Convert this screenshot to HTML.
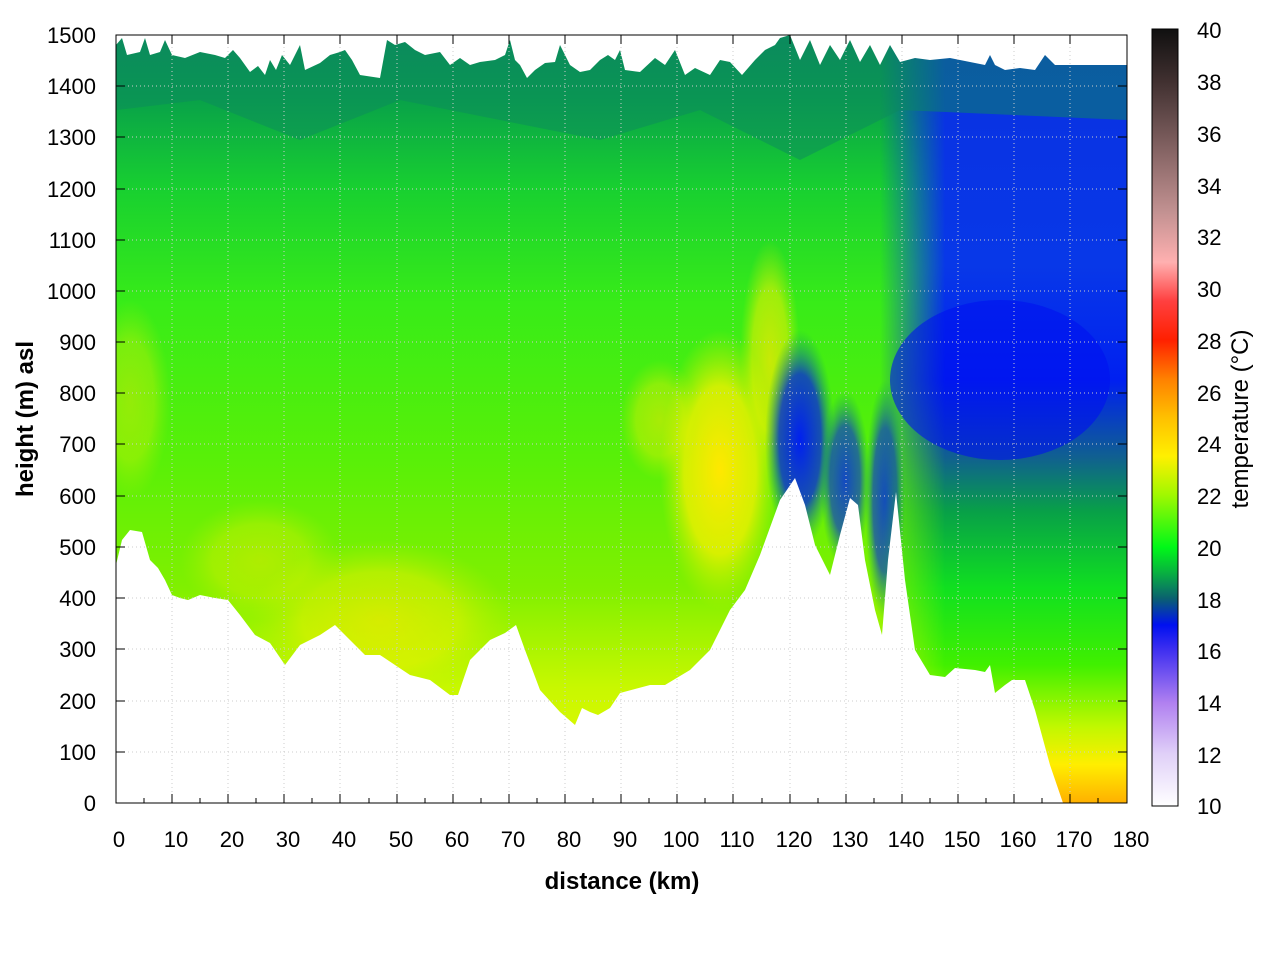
<!DOCTYPE html>
<html><head><meta charset="utf-8"><style>
body{margin:0;background:#fff;}
svg text{font-family:"Liberation Sans",sans-serif;}
</style></head><body>
<svg width="1280" height="960" xmlns="http://www.w3.org/2000/svg">
<defs>
<linearGradient id="base" x1="0" y1="0" x2="0" y2="1">
<stop offset="0" stop-color="#0b8a5e"/>
<stop offset="0.08" stop-color="#08a04a"/>
<stop offset="0.2" stop-color="#18d030"/>
<stop offset="0.35" stop-color="#38ec18"/>
<stop offset="0.55" stop-color="#58f008"/>
<stop offset="0.72" stop-color="#80f000"/>
<stop offset="0.85" stop-color="#c8f800"/>
<stop offset="1" stop-color="#f0f800"/>
</linearGradient>
<linearGradient id="right" x1="0" y1="0" x2="0" y2="1">
<stop offset="0" stop-color="#0a30e0"/>
<stop offset="0.3" stop-color="#0838e8"/>
<stop offset="0.45" stop-color="#0020f0"/>
<stop offset="0.55" stop-color="#106090"/>
<stop offset="0.62" stop-color="#08a048"/>
<stop offset="0.72" stop-color="#10e020"/>
<stop offset="0.82" stop-color="#40f000"/>
<stop offset="0.9" stop-color="#c0f800"/>
<stop offset="0.95" stop-color="#ffee00"/>
<stop offset="1" stop-color="#ffb000"/>
</linearGradient>
<linearGradient id="fade" x1="0" y1="0" x2="1" y2="0">
<stop offset="0" stop-color="#fff" stop-opacity="0"/>
<stop offset="0.25" stop-color="#fff" stop-opacity="1"/>
</linearGradient>
<mask id="m"><rect x="880" y="0" width="260" height="960" fill="url(#fade)"/></mask>
<radialGradient id="yel" cx="0.5" cy="0.5" r="0.5">
<stop offset="0" stop-color="#ffe800"/>
<stop offset="0.6" stop-color="#f0f000" stop-opacity="0.8"/>
<stop offset="1" stop-color="#c0f000" stop-opacity="0"/>
</radialGradient>
<radialGradient id="blu" cx="0.5" cy="0.5" r="0.5">
<stop offset="0" stop-color="#0020f0"/>
<stop offset="0.6" stop-color="#1040c0" stop-opacity="0.9"/>
<stop offset="1" stop-color="#10a060" stop-opacity="0"/>
</radialGradient>
<linearGradient id="cb" x1="0" y1="1" x2="0" y2="0">
<stop offset="0" stop-color="#ffffff"/>
<stop offset="0.067" stop-color="#e0d0f8"/>
<stop offset="0.133" stop-color="#b080f0"/>
<stop offset="0.2" stop-color="#4030f0"/>
<stop offset="0.233" stop-color="#0010f0"/>
<stop offset="0.267" stop-color="#0a6070"/>
<stop offset="0.3" stop-color="#08b040"/>
<stop offset="0.333" stop-color="#00f818"/>
<stop offset="0.4" stop-color="#a0f800"/>
<stop offset="0.45" stop-color="#fff000"/>
<stop offset="0.5" stop-color="#ffc000"/>
<stop offset="0.55" stop-color="#ff8000"/>
<stop offset="0.6" stop-color="#ff2000"/>
<stop offset="0.65" stop-color="#ff4040"/>
<stop offset="0.7" stop-color="#ffb0b0"/>
<stop offset="0.767" stop-color="#c09090"/>
<stop offset="0.85" stop-color="#806060"/>
<stop offset="0.933" stop-color="#403030"/>
<stop offset="1" stop-color="#101010"/>
</linearGradient>
<clipPath id="pc"><rect x="116" y="35" width="1011" height="768"/></clipPath>
</defs>
<g clip-path="url(#pc)">
<rect x="116" y="35" width="1011" height="768" fill="url(#base)"/>
<ellipse cx="380" cy="620" rx="130" ry="80" fill="url(#yel)" opacity="0.6"/>
<ellipse cx="260" cy="560" rx="80" ry="60" fill="url(#yel)" opacity="0.4"/>
<ellipse cx="130" cy="400" rx="40" ry="100" fill="url(#yel)" opacity="0.4"/>
<ellipse cx="720" cy="470" rx="60" ry="140" fill="url(#yel)"/>
<ellipse cx="770" cy="360" rx="30" ry="120" fill="url(#yel)" opacity="0.7"/>
<ellipse cx="660" cy="420" rx="40" ry="60" fill="url(#yel)" opacity="0.5"/>
<ellipse cx="800" cy="440" rx="35" ry="110" fill="url(#blu)"/>
<ellipse cx="845" cy="480" rx="25" ry="90" fill="url(#blu)" opacity="0.8"/>
<ellipse cx="885" cy="500" rx="20" ry="120" fill="url(#blu)" opacity="0.8"/>
<g mask="url(#m)"><rect x="880" y="35" width="247" height="768" fill="url(#right)"/></g>
<ellipse cx="1000" cy="380" rx="110" ry="80" fill="#0010f0" opacity="0.6"/>
<polygon fill="#0b8a5e" opacity="0.5" points="116,35 1127,35 1127,120 900,110 800,160 700,110 600,140 500,120 400,100 300,140 200,100 116,110"/>
<polygon fill="#fff" points="116,803 116,565 122,540 130,530 142,532 150,560 158,568 165,580 172,595 180,598 188,600 200,595 215,598 228,600 240,615 255,635 270,643 285,665 300,645 320,635 335,625 350,640 365,655 380,655 395,665 410,675 430,680 450,695 458,695 470,660 490,640 505,633 516,625 525,650 540,690 560,712 575,725 582,708 590,712 598,715 610,708 620,693 650,685 665,685 690,670 710,650 730,610 745,590 760,555 780,500 795,478 805,505 815,545 830,575 840,535 850,498 858,505 865,560 875,610 882,635 888,560 896,492 905,580 915,650 930,675 945,677 955,668 975,670 985,672 990,665 995,693 1005,685 1012,680 1025,680 1035,710 1050,765 1063,803"/>
<polygon fill="#fff" points="116,35 116,45 122,38 127,55 140,52 145,38 150,55 160,52 165,40 172,55 185,58 200,52 215,55 225,58 233,50 240,58 250,72 258,66 265,75 270,60 276,70 282,55 290,65 300,45 305,70 320,63 330,55 340,52 345,50 352,60 360,75 380,78 387,40 395,45 405,42 415,50 425,55 440,52 450,65 460,58 470,65 480,62 495,60 505,55 510,40 515,60 520,65 527,78 535,70 545,63 555,62 560,45 570,65 580,72 590,70 600,60 608,55 615,60 620,50 625,70 640,72 655,58 665,65 675,50 685,75 695,68 710,75 720,60 730,62 742,75 755,60 765,50 775,45 780,38 790,35 800,60 810,40 820,65 830,45 840,60 850,40 860,62 870,45 880,65 890,45 900,62 915,58 930,60 950,58 970,62 985,65 990,55 995,65 1005,70 1020,68 1035,70 1045,55 1055,65 1062,65 1127,65 1127,35"/>
</g>
<g stroke="#ccc" stroke-width="1" stroke-dasharray="1,3">
<path d="M172,35V803M228,35V803M284,35V803M340,35V803M397,35V803M453,35V803M509,35V803M565,35V803M621,35V803M677,35V803M733,35V803M790,35V803M846,35V803M902,35V803M958,35V803M1014,35V803M1070,35V803"/>
<path d="M116,752H1127M116,701H1127M116,649H1127M116,598H1127M116,547H1127M116,496H1127M116,444H1127M116,393H1127M116,342H1127M116,291H1127M116,240H1127M116,189H1127M116,137H1127M116,86H1127"/>
</g>
<rect x="116" y="35" width="1011" height="768" fill="none" stroke="#000" stroke-width="1"/>
<g stroke="#000" stroke-width="1">
<path d="M116,803v-9M172,803v-9M228,803v-9M284,803v-9M340,803v-9M397,803v-9M453,803v-9M509,803v-9M565,803v-9M621,803v-9M677,803v-9M733,803v-9M790,803v-9M846,803v-9M902,803v-9M958,803v-9M1014,803v-9M1070,803v-9M1127,803v-9"/>
<path d="M172,35v9M228,35v9M284,35v9M340,35v9M397,35v9M453,35v9M509,35v9M565,35v9M621,35v9M677,35v9M733,35v9M790,35v9M846,35v9M902,35v9M958,35v9M1014,35v9M1070,35v9"/>
<path d="M144,803v-5M200,803v-5M256,803v-5M312,803v-5M369,803v-5M425,803v-5M481,803v-5M537,803v-5M593,803v-5M649,803v-5M705,803v-5M762,803v-5M818,803v-5M874,803v-5M930,803v-5M986,803v-5M1042,803v-5M1098,803v-5"/>
<path d="M116,752h9M116,701h9M116,649h9M116,598h9M116,547h9M116,496h9M116,444h9M116,393h9M116,342h9M116,291h9M116,240h9M116,189h9M116,137h9M116,86h9"/>
<path d="M1127,752h-9M1127,701h-9M1127,649h-9M1127,598h-9M1127,547h-9M1127,496h-9M1127,444h-9M1127,393h-9M1127,342h-9M1127,291h-9M1127,240h-9M1127,189h-9M1127,137h-9M1127,86h-9"/>
</g>
<g font-size="22" fill="#000" text-anchor="middle">
<text x="119" y="847">0</text><text x="176" y="847">10</text><text x="232" y="847">20</text><text x="288" y="847">30</text><text x="344" y="847">40</text><text x="401" y="847">50</text><text x="457" y="847">60</text><text x="513" y="847">70</text><text x="569" y="847">80</text><text x="625" y="847">90</text><text x="681" y="847">100</text><text x="737" y="847">110</text><text x="794" y="847">120</text><text x="850" y="847">130</text><text x="906" y="847">140</text><text x="962" y="847">150</text><text x="1018" y="847">160</text><text x="1074" y="847">170</text><text x="1131" y="847">180</text>
</g>
<g font-size="22" fill="#000" text-anchor="end">
<text x="96" y="811">0</text><text x="96" y="760">100</text><text x="96" y="709">200</text><text x="96" y="657">300</text><text x="96" y="606">400</text><text x="96" y="555">500</text><text x="96" y="504">600</text><text x="96" y="452">700</text><text x="96" y="401">800</text><text x="96" y="350">900</text><text x="96" y="299">1000</text><text x="96" y="248">1100</text><text x="96" y="197">1200</text><text x="96" y="145">1300</text><text x="96" y="94">1400</text><text x="96" y="43">1500</text>
</g>
<text x="622" y="889" font-size="24" font-weight="bold" text-anchor="middle">distance (km)</text>
<text transform="translate(33,419) rotate(-90)" font-size="24" font-weight="bold" text-anchor="middle">height (m) asl</text>
<rect x="1152" y="29" width="26" height="777" fill="url(#cb)" stroke="#000" stroke-width="1"/>
<g font-size="22" fill="#000">
<text x="1197" y="814">10</text><text x="1197" y="763">12</text><text x="1197" y="711">14</text><text x="1197" y="659">16</text><text x="1197" y="608">18</text><text x="1197" y="556">20</text><text x="1197" y="504">22</text><text x="1197" y="452">24</text><text x="1197" y="401">26</text><text x="1197" y="349">28</text><text x="1197" y="297">30</text><text x="1197" y="245">32</text><text x="1197" y="194">34</text><text x="1197" y="142">36</text><text x="1197" y="90">38</text><text x="1197" y="38">40</text>
</g>
<text transform="translate(1248,419) rotate(-90)" font-size="24" text-anchor="middle">temperature (°C)</text>
</svg>
</body></html>
